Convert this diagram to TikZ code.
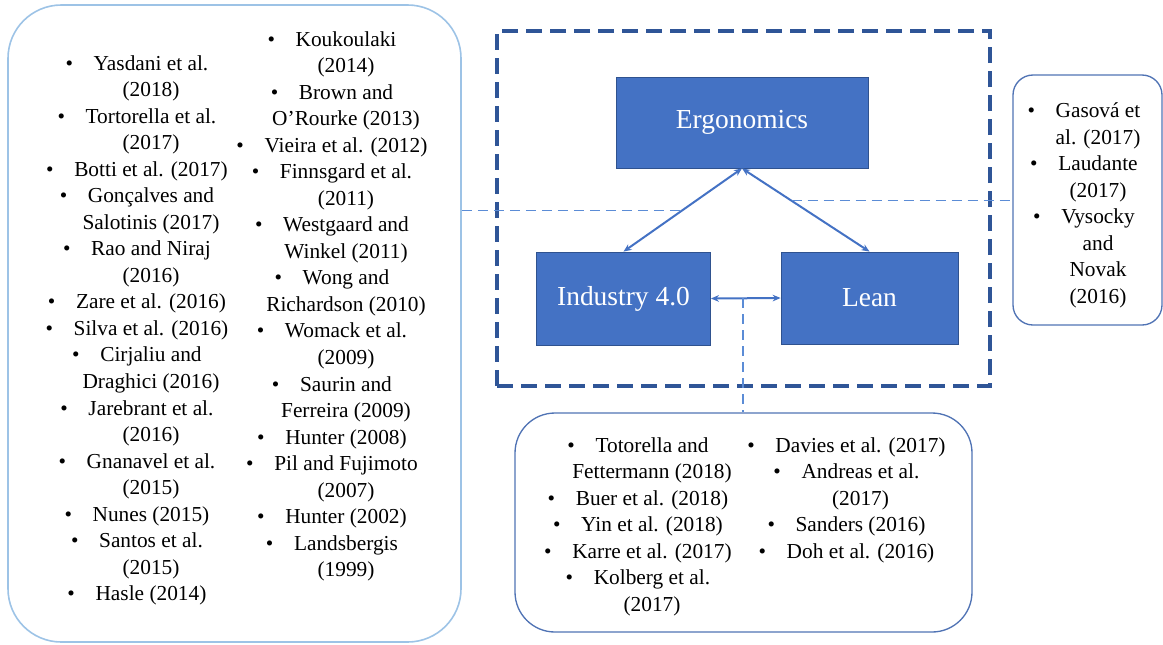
\documentclass[tikz,border=0pt]{standalone}
\usepackage{fontspec}
\newfontfamily\libser{Liberation Serif}
\setmainfont{Liberation Serif}
\usetikzlibrary{arrows.meta,calc}
\definecolor{lbox}{RGB}{157,195,230}
\definecolor{mbox}{RGB}{80,115,180}
\definecolor{dbox}{RGB}{47,85,151}
\definecolor{fillb}{RGB}{68,114,196}
\definecolor{edgeb}{RGB}{47,82,143}
\definecolor{conn}{RGB}{68,114,196}
\definecolor{thinc}{RGB}{91,140,214}
\newcommand{\bu}{\llap{\textbullet\hspace{15.5pt}}}
\begin{document}
\begin{tikzpicture}[x=0.75pt,y=-0.75pt,
  listtext/.style={align=center,inner sep=0pt,anchor=north,font=\libser\fontsize{16}{19.9}\selectfont},
  concept/.style={draw=edgeb,fill=fillb,text=white,line width=0.6pt,inner sep=0pt,
    font=\libser\fontsize{20.6}{24}\selectfont},
  refbox/.style={draw=mbox,line width=1pt,inner sep=0pt},
  biarrow/.style={draw=conn,line width=1.5pt,{Stealth[length=6pt,width=5pt]}-{Stealth[length=6pt,width=5pt]}},
  thinlink/.style={draw=thinc,line width=0.9pt,dash pattern=on 7.5pt off 4.5pt}]
\useasboundingbox (0,0) rectangle (1163,644);
% containers
\node[draw=lbox,line width=1.2pt,rounded corners=40pt,minimum width=339.75pt,minimum height=477.75pt,inner sep=0pt] (L) at (234.5,323.5) {};
\node[refbox,rounded corners=15pt,minimum width=111.75pt,minimum height=187.5pt] (R) at (1087.5,200) {};
\node[refbox,rounded corners=30pt,minimum width=342.75pt,minimum height=164.25pt] (B) at (743.5,522.5) {};
\node[draw=dbox,line width=3pt,dash pattern=on 12pt off 6pt,minimum width=369.75pt,minimum height=266.25pt,inner sep=0pt] (F) at (743.5,208.5) {};
% concepts
\node[concept,minimum width=189pt,minimum height=68.25pt] (E) at (742,122.5) {Ergonomics};
\node[concept,minimum width=130.5pt,minimum height=69.75pt] (I) at (623.5,298.5) {Industry 4.0};
\node[concept,minimum width=132.75pt,minimum height=69pt] (N) at (869.5,298) {Lean};
% arrows
\draw[biarrow] (E.south) -- (I.north);
\draw[biarrow] (E.south) -- (N.north);
\draw[biarrow] (I.east) -- (N.west);
% dashed links
\coordinate (m1) at ($(E.south)!0.51!(I.north)$);
\coordinate (m2) at ($(E.south)!0.39!(N.north)$);
\coordinate (m3) at ($(I.east)!0.46!(N.west)$);
\draw[thinlink] (L.east |- m1) -- (m1);
\draw[thinlink] (m2) -- (m2 -| R.west);
\draw[thinlink] (m3) -- (m3 |- B.north);
% lists
\node[listtext] (c1) at (151,55) {\bu Yasdani et al.\\ (2018)\\
\bu Tortorella et al.\\ (2017)\\
\bu Botti et al. (2017)\\
\bu Gonçalves and\\ Salotinis (2017)\\
\bu Rao and Niraj\\ (2016)\\
\bu Zare et al. (2016)\\
\bu Silva et al. (2016)\\
\bu Cirjaliu and\\ Draghici (2016)\\
\bu Jarebrant et al.\\ (2016)\\
\bu Gnanavel et al.\\ (2015)\\
\bu Nunes (2015)\\
\bu Santos et al.\\ (2015)\\
\bu Hasle (2014)};
\node[listtext] (c2) at (346,31) {\bu Koukoulaki\\ (2014)\\
\bu Brown and\\ O’Rourke (2013)\\
\bu Vieira et al. (2012)\\
\bu Finnsgard et al.\\ (2011)\\
\bu Westgaard and\\ Winkel (2011)\\
\bu Wong and\\ Richardson (2010)\\
\bu Womack et al.\\ (2009)\\
\bu Saurin and\\ Ferreira (2009)\\
\bu Hunter (2008)\\
\bu Pil and Fujimoto\\ (2007)\\
\bu Hunter (2002)\\
\bu Landsbergis\\ (1999)};
\node[listtext] (c3) at (1098,102.5) {\bu Gasová et\\ al. (2017)\\
\bu Laudante\\ (2017)\\
\bu Vysocky\\ and\\ Novak\\ (2016)};
\node[listtext] (c4) at (652,437) {\bu Totorella and\\ Fettermann (2018)\\
\bu Buer et al. (2018)\\
\bu Yin et al. (2018)\\
\bu Karre et al. (2017)\\
\bu Kolberg et al.\\ (2017)};
\node[listtext] (c5) at (860.5,437) {\bu Davies et al. (2017)\\
\bu Andreas et al.\\ (2017)\\
\bu Sanders (2016)\\
\bu Doh et al. (2016)};
\end{tikzpicture}
\end{document}
